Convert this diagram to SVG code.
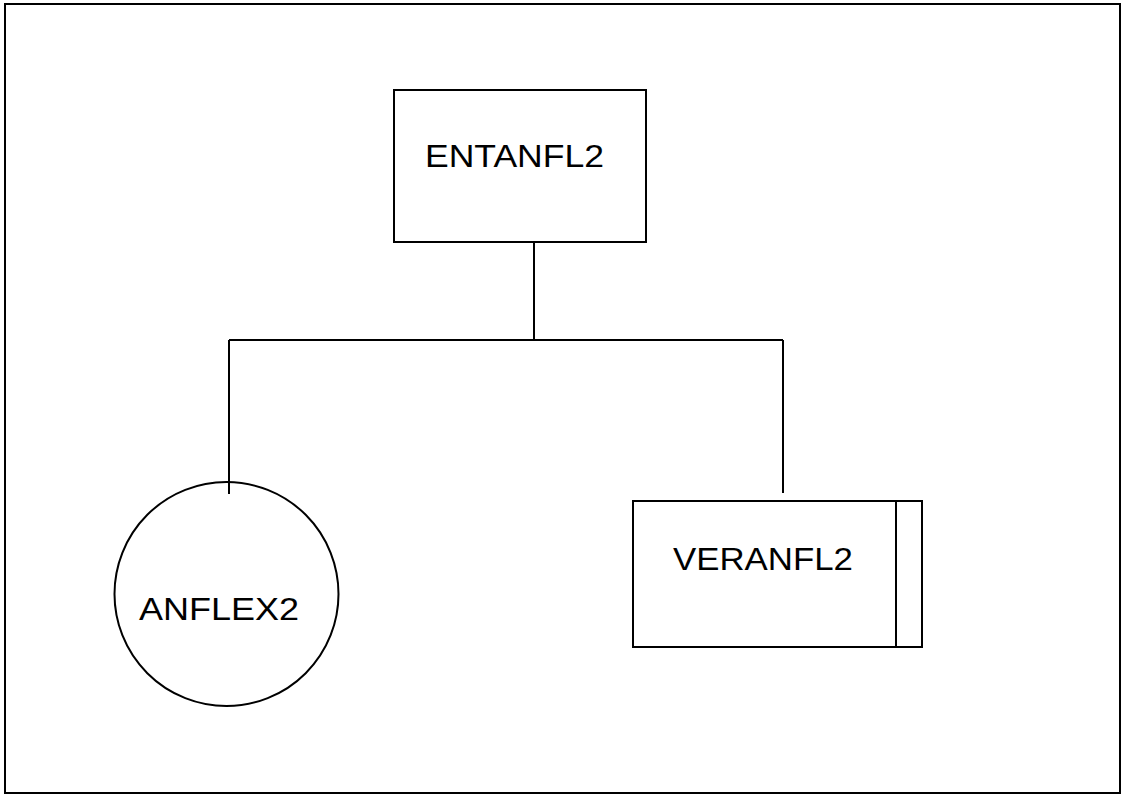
<svg xmlns="http://www.w3.org/2000/svg" width="1123" height="797" viewBox="0 0 1123 797">
<style>
.s{fill:none;stroke:#000;stroke-width:2}
.t{font-family:"Liberation Sans",Arial,sans-serif;font-size:31px;fill:#000}
</style>
<rect width="1123" height="797" fill="#fff"/>
<rect class="s" x="5" y="4" width="1115" height="789"/>
<g id="connectors">
<path class="s" d="M534 242V340M229 340H783M229 340V494M783 340V493"/>
</g>
<g id="ENTANFL2">
<rect class="s" x="394" y="90" width="252" height="152"/>
<text class="t" x="425" y="167" textLength="179" lengthAdjust="spacingAndGlyphs">ENTANFL2</text>
</g>
<g id="ANFLEX2">
<circle class="s" cx="226.5" cy="594" r="112"/>
<text class="t" x="139" y="620" textLength="160" lengthAdjust="spacingAndGlyphs">ANFLEX2</text>
</g>
<g id="VERANFL2">
<rect class="s" x="633" y="501" width="289" height="146"/>
<line class="s" x1="896" y1="501" x2="896" y2="647"/>
<text class="t" x="673" y="570" textLength="180" lengthAdjust="spacingAndGlyphs">VERANFL2</text>
</g>
</svg>
